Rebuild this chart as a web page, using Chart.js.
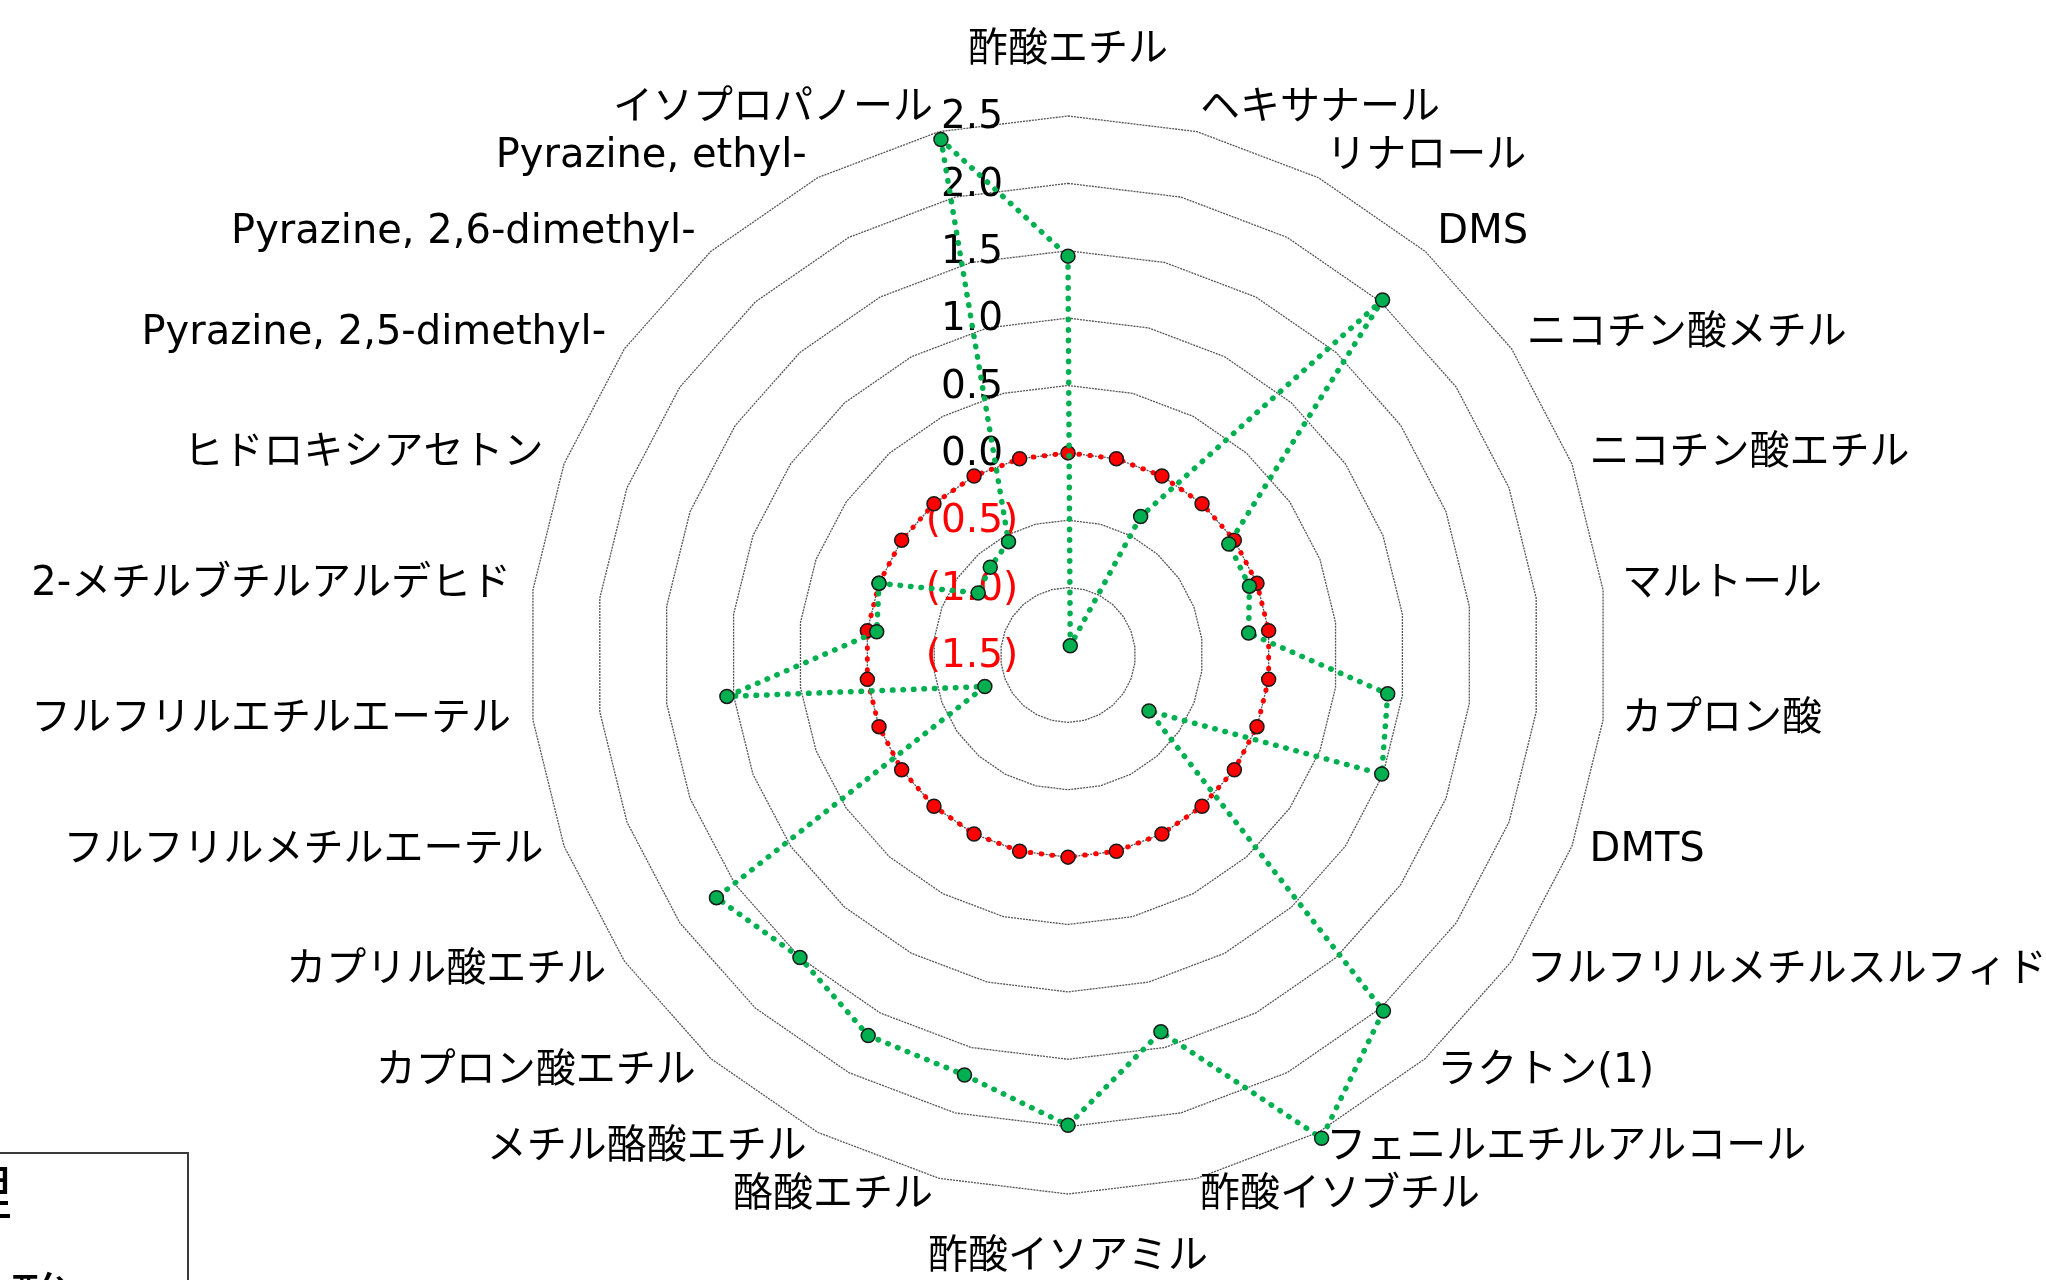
<!DOCTYPE html>
<html>
<head>
<meta charset="utf-8">
<script src="https://cdn.jsdelivr.net/npm/chart.js@4/dist/chart.umd.min.js"></script>
<style>
  html, body { margin: 0; padding: 0; background: #ffffff; }
  #wrap { width: 2046px; height: 1280px; position: relative; overflow: hidden; }
  canvas { display: block; }
</style>
</head>
<body>
<div id="wrap"><canvas id="c" width="2046" height="1280" style="width:2046px;height:1280px"></canvas></div>
<script>
// ---- data ----
const categories = [
  "酢酸エチル", "ヘキサナール", "リナロール", "DMS", "ニコチン酸メチル", "ニコチン酸エチル",
  "マルトール", "カプロン酸", "DMTS", "フルフリルメチルスルフィド", "ラクトン(1)",
  "フェニルエチルアルコール", "酢酸イソブチル", "酢酸イソアミル", "酪酸エチル",
  "メチル酪酸エチル", "カプロン酸エチル", "カプリル酸エチル", "フルフリルメチルエーテル",
  "フルフリルエチルエーテル", "2-メチルブチルアルデヒド", "ヒドロキシアセトン",
  "Pyrazine, 2,5-dimethyl-", "Pyrazine, 2,6-dimethyl-", "Pyrazine, ethyl-", "イソプロパノール"
];
const sampleValues = [
  1.46, -1.43, -0.34, 2.02, -0.05, -0.06, -0.15, 0.89, 0.99, -0.77, 2.03, 2.55, 1.38,
  1.99, 1.71, 1.69, 1.50, 1.67, -0.84, 1.05, -0.07, 0.00, -0.69, -0.63, -0.55, 2.44
];
const baselineValues = [
  0, 0, 0, 0, 0, 0, 0, 0, 0, 0, 0, 0, 0,
  0, 0, 0, 0, 0, 0, 0, 0, 0, 0, 0, 0, 0
];
const tickValues = [2.5, 2.0, 1.5, 1.0, 0.5, 0.0, -0.5, -1.0, -1.5];
const legendFragments = ["処理", "酢酸"];

function fmtTick(v) {
  return v < 0 ? "(" + Math.abs(v).toFixed(1) + ")" : v.toFixed(1);
}

const tickPlugin = {
  id: "excelTicks",
  beforeDatasetsDraw(chart) {
    const s = chart.scales.r;
    const ctx = chart.ctx;
    ctx.save();
    ctx.font = '39px "DejaVu Sans"';
    ctx.textAlign = "center";
    ctx.textBaseline = "middle";
    tickValues.forEach(v => {
      const d = s.getDistanceFromCenterForValue(v);
      ctx.fillStyle = v < 0 ? "#FF0000" : "#000000";
      ctx.fillText(fmtTick(v), s.xCenter - 96, s.yCenter - d + 2);
    });
    ctx.restore();
  }
};

const labelPlugin = {
  id: "excelLabels",
  afterDraw(chart) {
    const s = chart.scales.r;
    const ctx = chart.ctx;
    const R = s.drawingArea;
    const n = categories.length;
    ctx.save();
    ctx.font = '40px "DejaVu Sans", "Noto Sans CJK JP"';
    ctx.fillStyle = "#000000";
    ctx.textBaseline = "middle";
    categories.forEach((lab, i) => {
      const deg = 360 * i / n;
      let x, y, align;
      if (i === 0) {
        const p = s.getPointPosition(i, R + 65);
        x = p.x; y = p.y; align = "center";
      } else if (Math.abs(deg - 180) < 0.01) {
        const p = s.getPointPosition(i, R + 64);
        x = p.x; y = p.y; align = "center";
      } else {
        const p = s.getPointPosition(i, R + 21);
        x = p.x + (deg < 180 ? -2 : -1); y = p.y - 3; align = deg < 180 ? "left" : "right";
      }
      ctx.textAlign = align;
      ctx.fillText(lab, x, y);
    });
    // partially visible legend box (cut off at canvas edge)
    ctx.strokeStyle = "#3a3a3a";
    ctx.lineWidth = 2;
    ctx.strokeRect(-20, 1153, 208, 220);
    ctx.font = '60px "Noto Sans CJK JP"';
    ctx.textAlign = "right";
    ctx.fillText(legendFragments[0], 12, 1192);
    ctx.fillText(legendFragments[1], 70, 1300);
    ctx.restore();
  }
};

new Chart(document.getElementById("c"), {
  type: "radar",
  data: {
    labels: categories,
    datasets: [
      {
        label: "sample",
        data: sampleValues,
        borderColor: "#00B050",
        borderWidth: 5.5,
        borderDash: [0.5, 10],
        borderCapStyle: "round",
        backgroundColor: "rgba(0,0,0,0)",
        fill: false,
        pointBackgroundColor: "#00B050",
        pointBorderColor: "#1a1a1a",
        pointBorderWidth: 1.5,
        pointRadius: 7,
        order: 0
      },
      {
        label: "baseline",
        data: baselineValues,
        borderColor: "#FF0000",
        borderWidth: 5,
        borderDash: [0.5, 10.5],
        borderCapStyle: "round",
        backgroundColor: "rgba(0,0,0,0)",
        fill: false,
        pointBackgroundColor: "#FF0000",
        pointBorderColor: "#1a1a1a",
        pointBorderWidth: 1.5,
        pointRadius: 7,
        order: 1
      }
    ]
  },
  options: {
    responsive: false,
    devicePixelRatio: 1,
    animation: false,
    layout: { padding: { left: 529, top: 116, right: 439, bottom: 86 } },
    elements: { line: { tension: 0 } },
    plugins: { legend: { display: false }, tooltip: { enabled: false } },
    scales: {
      r: {
        min: -1.5,
        max: 2.5,
        beginAtZero: false,
        ticks: { display: false, stepSize: 0.5 },
        pointLabels: { display: false },
        angleLines: { display: false },
        grid: { color: "#555555", lineWidth: 1.3, circular: false },
        border: { dash: [2, 1] }
      }
    }
  },
  plugins: [tickPlugin, labelPlugin]
});
</script>
</body>
</html>
